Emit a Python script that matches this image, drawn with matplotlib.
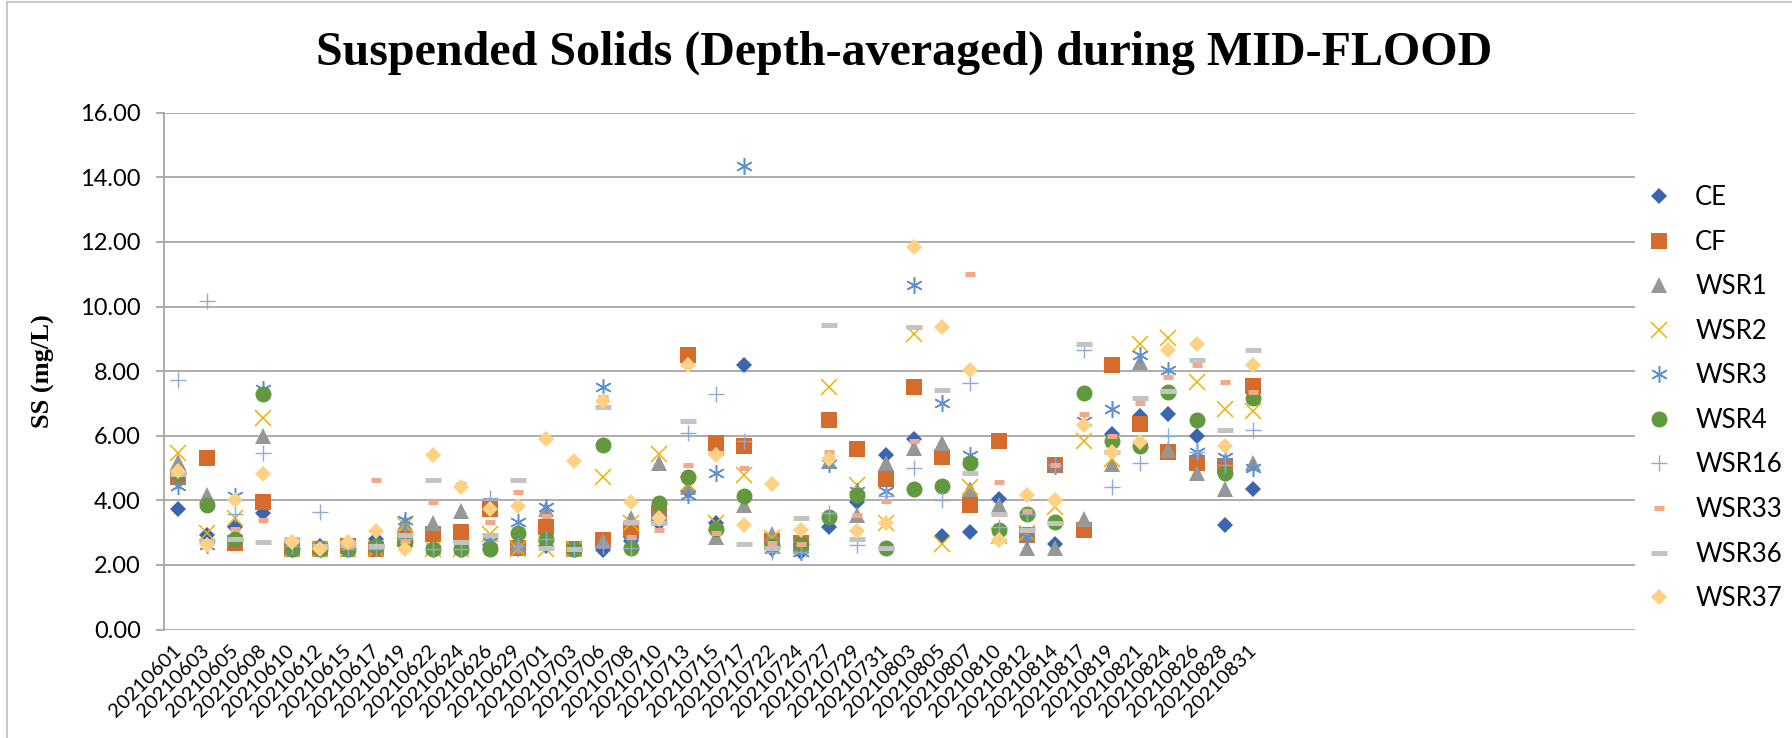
import matplotlib
matplotlib.use("Agg")
import matplotlib.pyplot as plt
from matplotlib.ticker import MultipleLocator, FormatStrFormatter

dates = ['20210601', '20210603', '20210605', '20210608', '20210610', '20210612',
         '20210615', '20210617', '20210619', '20210622', '20210624', '20210626',
         '20210629', '20210701', '20210703', '20210706', '20210708', '20210710',
         '20210713', '20210715', '20210717', '20210722', '20210724', '20210727',
         '20210729', '20210731', '20210803', '20210805', '20210807', '20210810',
         '20210812', '20210814', '20210817', '20210819', '20210821', '20210824',
         '20210826', '20210828', '20210831']
n_cats = 52  # the category axis keeps empty rows after 20210831

CE = [3.73, 2.93, 3.18, 3.62, 2.6, 2.6, 2.5, 2.79, 2.9, 2.5, 2.5, 2.62, 2.5,
      2.6, 2.5, 2.46, 2.73, 3.3, 4.3, 3.29, 8.19, 2.5, 2.4, 3.18, 3.95, 5.39,
      5.89, 2.9, 3.01, 4.04, 2.9, 2.65, 3.2, 6.06, 6.6, 6.67, 6.0, 3.23, 4.34]
CF = [4.73, 5.3, 2.68, 3.95, 2.51, 2.5, 2.6, 2.5, 2.8, 2.96, 3.01, 3.73, 2.51,
      3.18, 2.5, 2.76, 3.09, 3.6, 8.49, 5.78, 5.67, 2.74, 2.68, 6.48, 5.58, 4.67,
      7.52, 5.34, 3.86, 5.84, 2.93, 5.08, 3.09, 8.18, 6.36, 5.5, 5.15, 5.06, 7.55]
WSR1 = [5.2, 4.17, 2.85, 6.0, 2.5, 2.5, 2.5, 2.6, 3.3, 3.29, 3.68, 2.73, 2.62,
        3.73, 2.5, 2.73, 3.45, 5.15, 4.4, 2.85, 3.84, 2.96, 2.57, 5.23, 3.54, 5.17,
        5.61, 5.78, 4.34, 3.84, 2.51, 2.51, 3.42, 5.12, 8.27, 5.56, 4.84, 4.34, 5.17]
WSR2 = [5.47, 3.0, 3.45, 6.56, 2.5, 2.5, 2.5, 2.5, 3.23, 2.5, 2.5, 2.96, 2.5,
        2.5, 2.5, 4.73, 3.3, 5.42, 4.5, 3.29, 4.78, 2.82, 2.5, 7.52, 4.48, 3.29,
        9.14, 2.66, 4.4, 2.9, 3.0, 3.79, 5.84, 5.28, 8.85, 9.03, 7.66, 6.83, 6.78]
WSR3 = [4.45, 2.62, 4.12, 7.44, 2.5, 2.5, 2.5, 2.6, 3.4, 2.5, 2.5, 2.7, 3.34,
        3.79, 2.5, 7.52, 2.7, 3.5, 4.17, 4.84, 14.34, 2.5, 2.4, 5.12, 4.29, 4.29,
        10.68, 7.0, 5.39, 2.9, 2.85, 5.06, 6.45, 6.83, 8.49, 8.02, 5.5, 5.34, 5.0]
WSR4 = [4.84, 3.84, 2.79, 7.28, 2.5, 2.5, 2.5, 2.6, 2.7, 2.49, 2.49, 2.48, 2.98,
        2.79, 2.5, 5.7, 2.51, 3.93, 4.71, 3.12, 4.12, 2.57, 2.65, 3.49, 4.15, 2.51,
        4.34, 4.43, 5.17, 3.09, 3.59, 3.32, 7.33, 5.84, 5.67, 7.35, 6.5, 4.86, 7.17]
WSR16 = [7.74, 10.18, 3.57, 5.45, 2.6, 3.64, 2.5, 2.5, 2.8, 2.49, 2.49, 4.06, 2.6,
         2.79, 2.5, 2.6, 2.51, 3.3, 6.08, 7.3, 5.84, 2.4, 2.4, 3.62, 2.62, 4.12,
         5.0, 4.01, 7.63, 3.18, 3.57, 5.08, 8.66, 4.42, 5.17, 6.0, 5.5, 5.1, 6.17]
WSR33 = [4.8, 2.7, 3.12, 3.38, 2.7, 2.6, 2.6, 4.62, 2.73, 3.95, 4.5, 3.34, 4.26,
         3.51, 2.5, 7.19, 2.85, 3.07, 5.08, 3.0, 5.0, 2.68, 2.66, 5.5, 3.53, 3.98,
         5.84, 9.35, 11.01, 4.58, 3.68, 5.1, 6.67, 6.0, 7.0, 7.83, 8.18, 7.66, 7.35]
WSR36 = [4.8, 2.73, 2.79, 2.7, 2.79, 2.6, 2.62, 2.59, 2.92, 4.64, 2.71, 2.92, 4.64,
         2.51, 2.5, 6.89, 3.34, 3.29, 6.47, 5.45, 2.66, 2.51, 3.46, 9.43, 2.79, 2.51,
         9.36, 7.42, 4.84, 3.57, 3.09, 3.3, 8.83, 5.5, 7.17, 7.39, 8.35, 6.17, 8.66]
WSR37 = [4.9, 2.62, 4.01, 4.82, 2.7, 2.48, 2.7, 3.05, 2.48, 5.39, 4.4, 3.73, 3.82,
         5.91, 5.23, 7.08, 3.95, 3.46, 8.2, 5.39, 3.23, 4.51, 3.09, 5.28, 3.05, 3.29,
         11.85, 9.36, 8.02, 2.77, 4.17, 4.01, 6.33, 5.5, 5.81, 8.66, 8.83, 5.67, 8.18]

series = [
    ('CE', CE, dict(marker='D', ms=8.6, color='#3D65AF', mew=0)),
    ('CF', CF, dict(marker='s', ms=11.5, color='#D56C2B', mew=0)),
    ('WSR1', WSR1, dict(marker='^', ms=12, color='#979797', mew=0)),
    ('WSR2', WSR2, dict(marker='x', ms=11, color='#EEB203', mew=1.1)),
    ('WSR3', WSR3, dict(marker=(6, 2, 0), ms=12, color='#5B8FCF', mew=1.1)),
    ('WSR4', WSR4, dict(marker='o', ms=11.5, color='#62993E', mew=0)),
    ('WSR16', WSR16, dict(marker='+', ms=12, color='#8EA9DB', mew=1.0)),
    ('WSR33', WSR33, dict(marker='_', ms=6.5, color='#F3A88A', mew=3.6)),
    ('WSR36', WSR36, dict(marker='_', ms=12, color='#C3C3C3', mew=3.6)),
    ('WSR37', WSR37, dict(marker='D', ms=8.6, color='#FFD182', mew=0)),
]

plt.rcParams['font.family'] = ['Lato', 'DejaVu Sans']

fig = plt.figure(figsize=(17.92, 7.38), dpi=100)
ax = fig.add_axes([0.0917, 0.147, 0.8207, 0.7003])

x = list(range(len(dates)))
for name, vals, st in series:
    ax.plot(x, vals, linestyle='none', label=name, **st)

ax.set_xlim(-0.5, n_cats - 0.5)
ax.set_ylim(0, 16)
ax.yaxis.set_major_locator(MultipleLocator(2))
ax.yaxis.set_major_formatter(FormatStrFormatter('%.2f'))
ax.grid(axis='y', color='#A6A6A6', linewidth=1.3)
ax.set_axisbelow(True)

for s in ['top', 'right', 'bottom']:
    ax.spines[s].set_visible(False)
ax.spines['left'].set_color('#A6A6A6')
ax.spines['left'].set_linewidth(1.3)

ax.set_xticks(x)
ax.set_xticklabels(dates, rotation=45, ha='right', va='center',
                   rotation_mode='anchor', fontsize=14.5)
ax.tick_params(axis='x', length=0, pad=13)
ax.tick_params(axis='y', length=6, color='#A6A6A6', width=1.3,
               labelsize=17, pad=11)

ax.set_ylabel('SS (mg/L)', family='Liberation Serif', fontweight='bold',
              fontsize=19)
ax.yaxis.set_label_coords(-0.0743, 0.5)

fig.text(0.5047, 0.929, 'Suspended Solids (Depth-averaged) during MID-FLOOD',
         family='Liberation Serif', fontweight='bold', fontsize=34.6,
         ha='center', va='center')

ax.legend(loc='upper left', bbox_to_anchor=(1636 / 1792, 1 - 175 / 738),
          bbox_transform=fig.transFigure, frameon=False, numpoints=1,
          handlelength=1.0, handletextpad=0.9, labelspacing=0.76,
          fontsize=18.5, borderaxespad=0)

# chart area border (left and top edges only show in the crop)
fig.add_artist(plt.Line2D([7 / 1792, 7 / 1792], [0, 1 - 2 / 738],
                          transform=fig.transFigure, color='#BFBFBF', lw=1.2))
fig.add_artist(plt.Line2D([7 / 1792, 1], [1 - 2 / 738, 1 - 2 / 738],
                          transform=fig.transFigure, color='#BFBFBF', lw=1.2))

fig.savefig('out.png', dpi=100)
